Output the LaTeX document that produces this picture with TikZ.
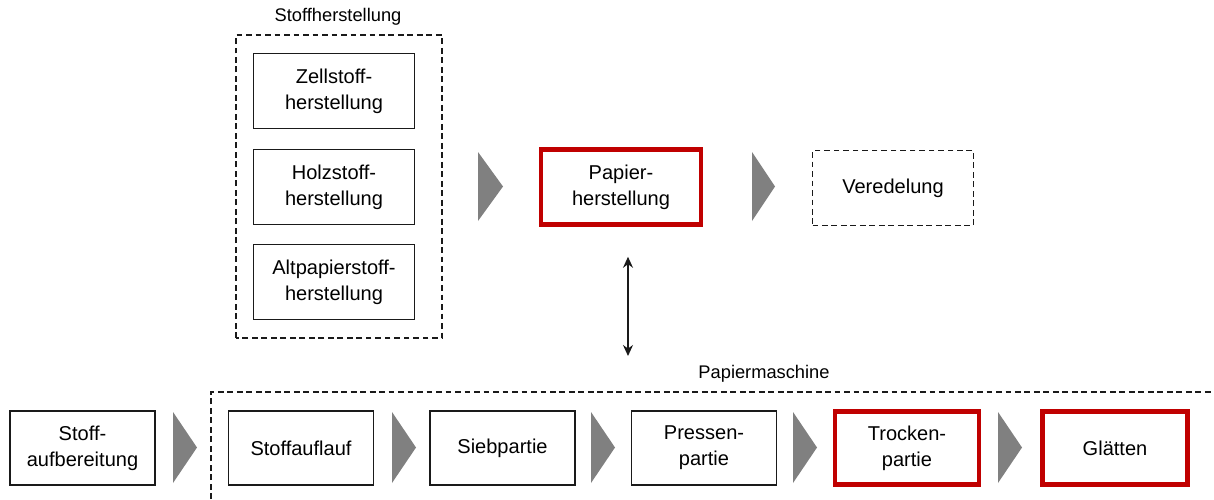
\documentclass[tikz,border=0pt]{standalone}
\usepackage{fontspec}
\setmainfont{Liberation Sans}
\usetikzlibrary{arrows.meta,calc,positioning}
\definecolor{ink}{HTML}{000000}
\definecolor{frame}{HTML}{1A1A1A}
\definecolor{hilite}{HTML}{C00000}
\definecolor{chevgray}{HTML}{808080}
\tikzset{
  basebox/.style={draw=frame,fill=white,align=center,line width=0.8pt,inner sep=3pt,
    font=\fontsize{11.4}{14.8}\selectfont,text=ink},
  redbox/.style={basebox,draw=hilite,line width=2.6pt},
  dashbox/.style={basebox,dash pattern=on 3.3pt off 2.1pt,line width=0.7pt},
  grouplabel/.style={font=\fontsize{10.4}{12}\selectfont,text=ink},
  groupline/.style={draw=frame,line width=0.7pt,dash pattern=on 3.3pt off 2.1pt},
  chev/.style={fill=chevgray,draw=none},
  dblarrow/.style={{Stealth[length=2.2mm,width=2mm]}-{Stealth[length=2.2mm,width=2mm]},line width=0.8pt,draw=frame}
}

\begin{document}
\begin{tikzpicture}[
        x=1cm,y=1cm,
        topblk/.style={minimum width=3.22cm,minimum height=1.50cm},
        botblk/.style={minimum width=2.90cm,minimum height=1.48cm}
      ]
        \useasboundingbox (0,0) rectangle (24.28,9.98);

        % Stoffherstellung
        \draw[groupline] (4.72,3.22) rectangle (8.84,9.28);
        \node[grouplabel] (lblstoff) at (6.76,9.64) {Stoffherstellung};
        \node[basebox,topblk] (zell) at (6.68,8.16) {Zellstoff-\\herstellung};
        \node[basebox,topblk] (holz) at (6.68,6.24) {Holzstoff-\\herstellung};
        \node[basebox,topblk] (alt) at (6.68,4.34) {Altpapierstoff-\\herstellung};

        \node[redbox,minimum width=3.20cm,minimum height=1.50cm] (papier) at (12.42,6.24) {Papier-\\herstellung};
        \node[dashbox,topblk] (veredel) at (17.86,6.22) {Veredelung};

        \fill[chev] (9.56,6.94) -- (10.06,6.25) -- (9.56,5.56) -- cycle;
        \fill[chev] (15.04,6.94) -- (15.50,6.25) -- (15.04,5.56) -- cycle;

        % Papiermaschine
        \draw[groupline] (4.22,0) -- (4.22,2.14) -- (24.28,2.14);
        \node[grouplabel] (lblpm) at (15.28,2.50) {Papiermaschine};
        \coordinate (pmtop) at (12.56,2.86);
        \draw[dblarrow] ([yshift=-0.60cm]papier.south -| pmtop) -- (pmtop);

        \node[basebox,botblk] (aufb) at (1.65,1.02) {Stoff-\\aufbereitung};
        \node[basebox,botblk] (auflauf) at (6.02,1.02) {Stoffauflauf};
        \node[basebox,botblk] (sieb) at (10.05,1.02) {Siebpartie};
        \node[basebox,botblk] (presse) at (14.08,1.02) {Pressen-\\partie};
        \node[redbox,minimum width=2.88cm,minimum height=1.46cm] (trocken) at (18.14,1.02) {Trocken-\\partie};
        \node[redbox,minimum width=2.90cm,minimum height=1.46cm] (glatt) at (22.30,1.02) {Glätten};

        \fill[chev] (3.46,1.74) -- (3.94,1.03) -- (3.46,0.32) -- cycle;
        \fill[chev] (7.84,1.74) -- (8.32,1.03) -- (7.84,0.32) -- cycle;
        \fill[chev] (11.82,1.74) -- (12.30,1.03) -- (11.82,0.32) -- cycle;
        \fill[chev] (15.86,1.74) -- (16.34,1.03) -- (15.86,0.32) -- cycle;
        \fill[chev] (19.96,1.74) -- (20.44,1.03) -- (19.96,0.32) -- cycle;
      \end{tikzpicture}
\end{document}
